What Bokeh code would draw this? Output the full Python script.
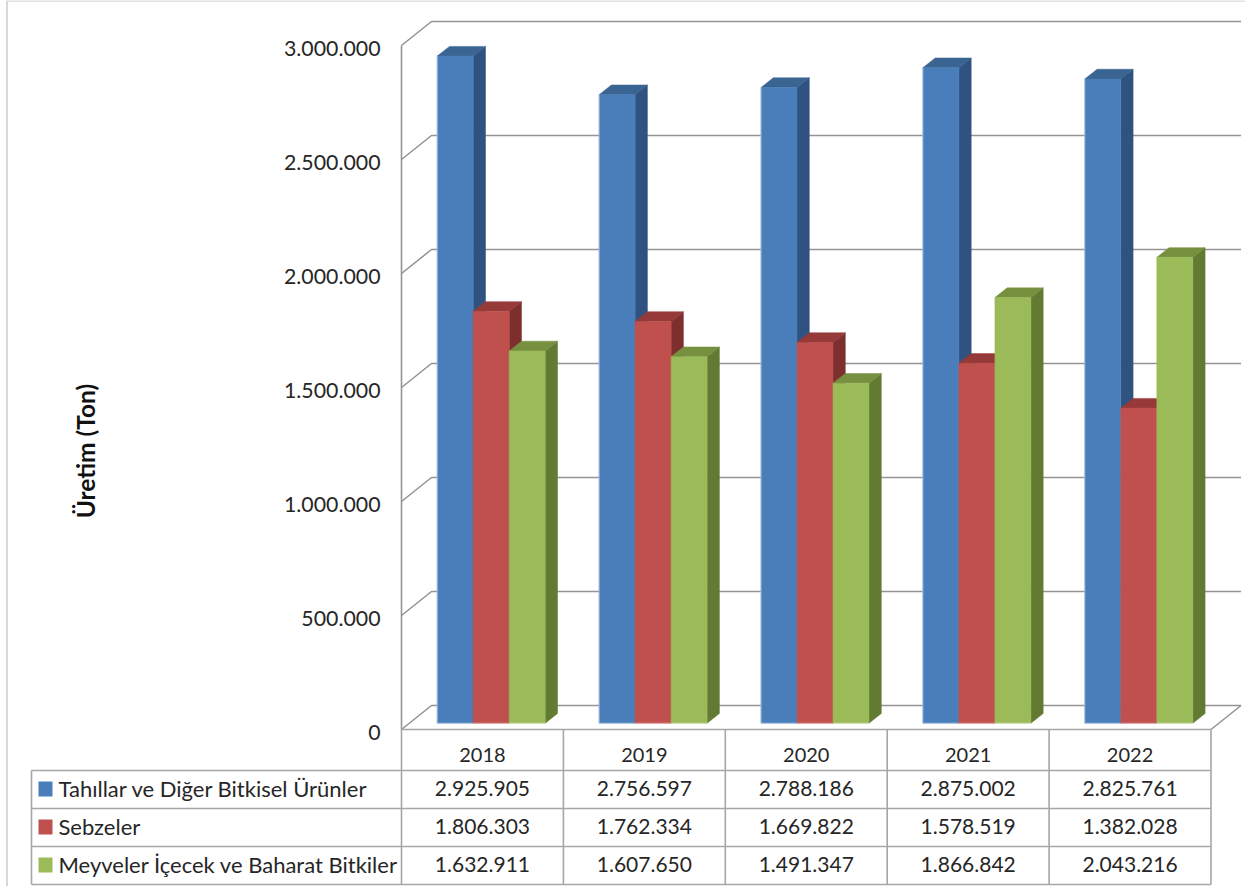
from bokeh.plotting import figure
from bokeh.embed import file_html
from bokeh.resources import INLINE
from bokeh.models import Range1d, LinearAxis, FixedTicker
from bokeh.core.properties import value
import math

years = ["2018", "2019", "2020", "2021", "2022"]
series_names = ["Tahıllar ve Diğer Bitkisel Ürünler", "Sebzeler", "Meyveler İçecek ve Baharat Bitkiler"]
tahillar = [2925905, 2756597, 2788186, 2875002, 2825761]
sebzeler = [1806303, 1762334, 1669822, 1578519, 1382028]
meyveler = [1632911, 1607650, 1491347, 1866842, 2043216]
y_ticks = [0, 500000, 1000000, 1500000, 2000000, 2500000, 3000000]
y_tick_labels = ["0", "500.000", "1.000.000", "1.500.000", "2.000.000", "2.500.000", "3.000.000"]
y_title = "Üretim (Ton)"

series = [tahillar, sebzeler, meyveler]
face = ["#4A7EBB", "#C0504D", "#9BBB59"]
edge = ["#B9CDE5", "#E0A8A6", "#D7E4BD"]
top_c = ["#3A6491", "#953A39", "#76903F"]
side_c = ["#2F5280", "#7D2F2E", "#637A33"]

W, H = 1245, 886
X0, STEP = 401.0, 161.9       # pixel of first category edge, pixels per category
Y0, PXV = 729.0, 684.0 / 3e6  # pixel of zero, pixels per unit
FONT = "Lato"
INK = "#262626"
GRID = "#949494"

sx = lambda px: (px - X0) / STEP       # pixel -> category units
sy = lambda py: (Y0 - py) / PXV        # pixel -> value units
dx = lambda px: px / STEP
dy = lambda px: px / PXV

p = figure(width=W, height=H, output_backend="svg", toolbar_location=None,
           x_range=Range1d(sx(0), sx(W)), y_range=Range1d(sy(H), sy(0)),
           min_border=0, x_axis_type=None, y_axis_type=None)
p.outline_line_color = None
p.grid.visible = False
p.background_fill_color = "white"

# outer chart frame
p.line([sx(6.5), sx(6.5)], [sy(0), sy(H)], line_color="#b0b0b0", line_width=1)
p.line([sx(6.5), sx(W)], [sy(0.5), sy(0.5)], line_color="#d8d8d8", line_width=1.5)

# 3D walls: gridlines with a depth shoulder
WX, WY = 30.0, 24.0
back_right = len(years) + dx(WX)
p.multi_line([[0, dx(WX), back_right] for _ in y_ticks],
             [[t, t + dy(WY), t + dy(WY)] for t in y_ticks],
             line_color=GRID, line_width=1.6)
p.line([len(years), back_right], [0, dy(WY)], line_color=GRID, line_width=1.6)
p.line([0, 0], [y_ticks[0], y_ticks[-1]], line_color=GRID, line_width=1.6)

# y axis: labels sit 3px under their gridlines, so they get a slightly shifted range
LABEL_DROP = 3.0
p.extra_y_ranges = {"labels": Range1d(sy(H) + dy(LABEL_DROP), sy(0) + dy(LABEL_DROP))}
ax = LinearAxis(y_range_name="labels", ticker=FixedTicker(ticks=y_ticks), fixed_location=0,
                major_label_overrides={t: l for t, l in zip(y_ticks, y_tick_labels)},
                axis_line_color=None,
                major_tick_line_color=None, minor_tick_line_color=None,
                major_label_standoff=15, major_label_text_font=FONT,
                major_label_text_font_size="21.3px", major_label_text_color=INK)
p.add_layout(ax, "left")

p.text([sx(84.5)], [sy(450.5)], text=[y_title], angle=math.pi / 2, text_align="center",
       text_baseline="middle", text_font=value(FONT), text_font_style="bold",
       text_font_size="24.5px", text_color="#111111")

# bars
BAR_W = dx(36.0)
START = dx(35.7)
BASE = dy(6.3)
DX, DY = dx(12.3), dy(9.7)
for s, vals in enumerate(series):
    left = [i + START + s * BAR_W for i in range(len(years))]
    right = [l + BAR_W for l in left]
    top = [BASE + v for v in vals]
    p.patches([[r, r + DX, r + DX, r] for r in right],
              [[BASE, BASE + DY, t + DY, t] for t in top],
              fill_color=side_c[s], line_color=side_c[s], line_width=0.5)
    p.patches([[l, l + DX, r + DX, r] for l, r in zip(left, right)],
              [[t, t + DY, t + DY, t] for t in top],
              fill_color=top_c[s], line_color=top_c[s], line_width=0.5)
    p.quad(left=left, right=right, bottom=[BASE] * len(left), top=top,
           fill_color=face[s], line_color=face[s], line_width=0.5)
    # pale highlight: along the bottom of every bar, up the left side of the first
    edge_x = [[l, l, r] if s == 0 else [l, r] for l, r in zip(left, right)]
    edge_y = [[t, BASE, BASE] if s == 0 else [BASE, BASE] for t in top]
    p.multi_line(edge_x, edge_y, line_color=edge[s], line_width=1, line_alpha=0.8)

# data table
n = len(years)
row_tops = [Y0, 770.0, 808.0, 846.0, 884.0]
leg_left = sx(31)
xs, ys = [], []
for i in range(n + 1):
    xs.append([i, i]); ys.append([sy(row_tops[0]), sy(row_tops[-1])])
xs.append([leg_left, leg_left]); ys.append([sy(row_tops[1]), sy(row_tops[-1])])
xs.append([0, n]); ys.append([0, 0])
for r in row_tops[1:]:
    xs.append([leg_left, n]); ys.append([sy(r), sy(r)])
p.multi_line(xs, ys, line_color="#a6a6a6", line_width=1.6)

tstyle = dict(text_font=value(FONT), text_color=INK, text_baseline="middle")
p.text([i + 0.5 for i in range(n)], [sy(754)] * n, text=years, text_align="center",
       text_font_size="20px", **tstyle)
for r, vals in enumerate(series):
    mid = (row_tops[r + 1] + row_tops[r + 2]) / 2
    yc = sy(mid - 1.5)
    labels = [f"{v:,}".replace(",", ".") for v in vals]
    p.text([i + 0.5 for i in range(n)], [yc] * n, text=labels, text_align="center",
           text_font_size="21px", **tstyle)
    p.text([sx(58)], [yc], text=[series_names[r]], text_align="left",
           text_font_size="22px", **tstyle)
    p.quad(left=[sx(38)], right=[sx(52)], bottom=[sy(mid - 0.5) - dy(7.5)], top=[sy(mid - 0.5) + dy(7.5)],
           fill_color=face[r], line_color=None)

open("out.html", "w").write(file_html(p, INLINE))
